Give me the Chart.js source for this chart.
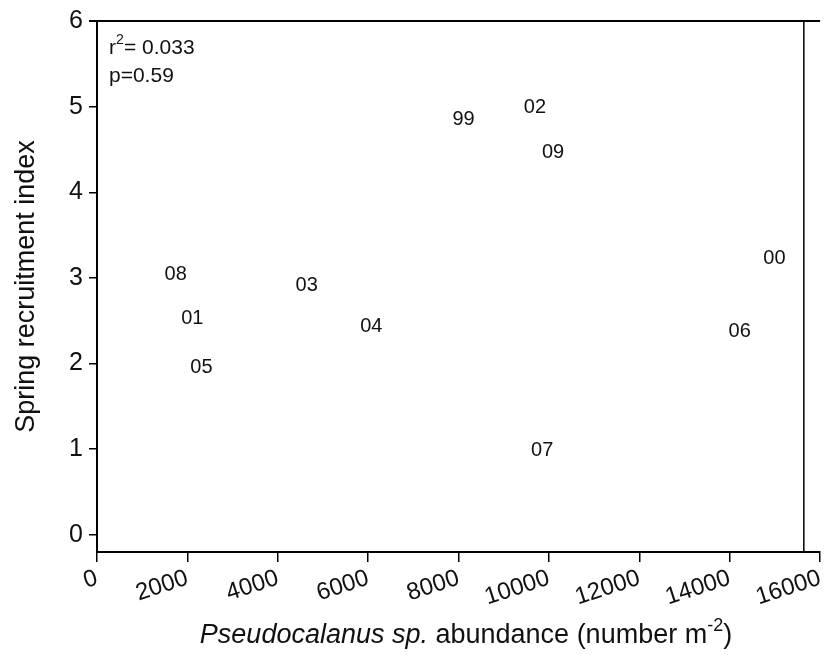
<!DOCTYPE html>
<html>
<head>
<script src="https://cdn.jsdelivr.net/npm/chart.js@4"></script>
<style>
  body { margin: 0; background: #fff; }
  #wrap { width: 831px; height: 655px; }
</style>
</head>
<body>
<div id="wrap"><canvas id="c" width="831" height="655"></canvas></div>
<script>
const years = ['99', '02', '09', '00', '08', '03', '01', '04', '06', '05', '07'];
const abundance = [8110, 9690, 10090, 14990, 1740, 4640, 2110, 6070, 14220, 2310, 9850];
const recruitment = [4.85, 4.99, 4.46, 3.23, 3.04, 2.91, 2.53, 2.43, 2.38, 1.96, 0.99];
const xTicks = [0, 2000, 4000, 6000, 8000, 10000, 12000, 14000, 16000];
const yTicks = [0, 1, 2, 3, 4, 5, 6];
const refLineX = 15640;

const FONT = 'Liberation Sans, Arial, sans-serif';

// draw year labels at data positions, plus frame line and text annotations
const labelPlugin = {
    id: 'labels',
    afterDatasetsDraw(chart) {
        const ctx = chart.ctx;
        const xs = chart.scales.x, ys = chart.scales.y;
        const area = chart.chartArea;
        ctx.save();
        ctx.fillStyle = '#111';
        ctx.font = '20px ' + FONT;
        ctx.textAlign = 'center';
        ctx.textBaseline = 'middle';
        years.forEach((y, i) => {
            ctx.fillText(y, xs.getPixelForValue(abundance[i]), ys.getPixelForValue(recruitment[i]));
        });

        // top frame line
        ctx.strokeStyle = '#000';
        ctx.lineWidth = 2;
        ctx.beginPath();
        ctx.moveTo(area.left - 8, area.top);
        ctx.lineTo(area.right, area.top);
        ctx.stroke();

        // stats
        ctx.textAlign = 'left';
        ctx.textBaseline = 'alphabetic';
        ctx.font = '21px ' + FONT;
        ctx.fillText('r', 109, 54);
        ctx.font = '14px ' + FONT;
        ctx.fillText('2', 116, 44);
        ctx.font = '21px ' + FONT;
        ctx.fillText('= 0.033', 124, 54);
        ctx.fillText('p=0.59', 109, 82);

        // x title
        ctx.font = 'italic 27px ' + FONT;
        const p1 = 'Pseudocalanus sp.';
        const w1 = ctx.measureText(p1).width;
        ctx.font = '27px ' + FONT;
        const p2 = ' abundance (number m';
        const w2 = ctx.measureText(p2).width;
        ctx.font = '18px ' + FONT;
        const w3 = ctx.measureText('-2').width;
        ctx.font = '27px ' + FONT;
        const w4 = ctx.measureText(')').width;
        let x = 466 - (w1 + w2 + w3 + w4) / 2;
        const base = 643;
        ctx.font = 'italic 27px ' + FONT;
        ctx.fillText(p1, x, base); x += w1;
        ctx.font = '27px ' + FONT;
        ctx.fillText(p2, x, base); x += w2;
        ctx.font = '18px ' + FONT;
        ctx.fillText('-2', x, base - 12); x += w3;
        ctx.font = '27px ' + FONT;
        ctx.fillText(')', x, base);
        ctx.restore();
    }
};

new Chart(document.getElementById('c'), {
    type: 'scatter',
    data: {
        datasets: [{
            data: abundance.map((a, i) => ({ x: a, y: recruitment[i] })),
            pointRadius: 0,
            pointHoverRadius: 0
        }, {
            type: 'line',
            data: [{ x: refLineX, y: -0.2 }, { x: refLineX, y: 6 }],
            borderColor: '#000',
            borderWidth: 1.5,
            pointRadius: 0
        }]
    },
    options: {
        responsive: false,
        animation: false,
        events: [],
        layout: { padding: { top: 18, right: 6, left: 10, bottom: 0 } },
        plugins: { legend: { display: false }, tooltip: { enabled: false } },
        scales: {
            x: {
                type: 'linear',
                min: 0,
                max: 16000,
                afterBuildTicks: s => { s.ticks = xTicks.map(v => ({ value: v })); },
                afterFit: s => { s.height = 103; },
                grid: { drawOnChartArea: false, color: '#000', tickLength: 10, lineWidth: 1.5 },
                border: { color: '#000', width: 2 },
                ticks: {
                    color: '#111',
                    font: { family: FONT, size: 24 },
                    minRotation: 18,
                    maxRotation: 18,
                    padding: 2,
                    callback: v => String(v)
                }
            },
            y: {
                min: -0.2,
                max: 6,
                afterBuildTicks: s => { s.ticks = yTicks.map(v => ({ value: v })); },
                afterFit: s => { s.width = 87; },
                grid: { drawOnChartArea: false, color: '#000', tickLength: 8, lineWidth: 1.5 },
                border: { color: '#000', width: 2 },
                ticks: {
                    color: '#111',
                    font: { family: FONT, size: 25 },
                    padding: 6,
                    callback: v => String(v)
                },
                title: {
                    display: true,
                    text: 'Spring recruitment index',
                    color: '#111',
                    font: { family: FONT, size: 27 },
                    padding: { top: 0, bottom: 12 }
                }
            }
        }
    },
    plugins: [labelPlugin]
});
</script>
</body>
</html>
